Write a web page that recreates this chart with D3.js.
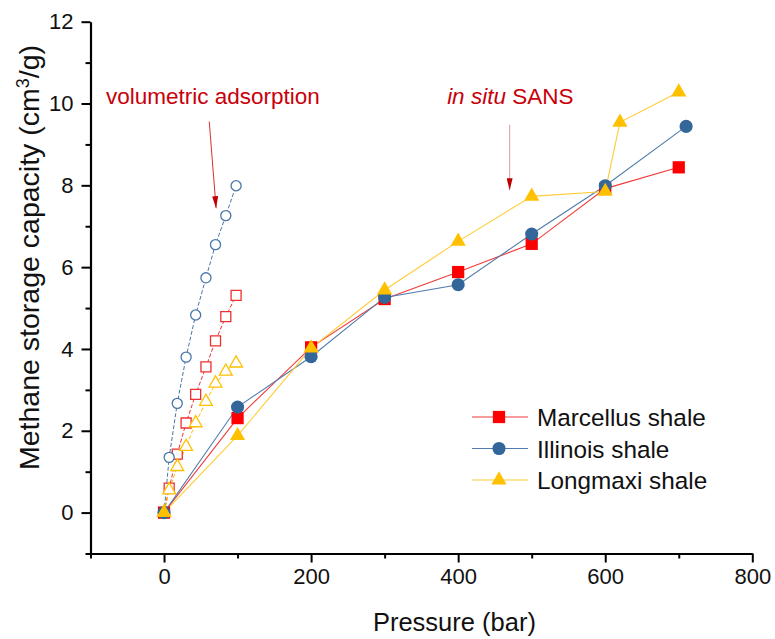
<!DOCTYPE html>
<html>
<head>
<meta charset="utf-8">
<script src="https://cdn.jsdelivr.net/npm/d3@7"></script>
<style>
  html, body { margin: 0; padding: 0; background: #fff; }
  svg { display: block; font-family: "Liberation Sans", Arial, sans-serif; }
</style>
</head>
<body>
<svg id="chart" width="775" height="639"></svg>
<script>
// ---------- data ----------
const marcellusPressure = [0, 100, 200, 300, 400, 500, 600, 700];
const marcellusSANS     = [0, 2.31, 4.04, 5.22, 5.88, 6.57, 7.92, 8.44];
const illinoisPressure  = [0, 100, 200, 300, 400, 500, 600, 710];
const illinoisSANS      = [0, 2.58, 3.81, 5.26, 5.57, 6.81, 7.99, 9.44];
const longmaxiPressure  = [0, 100, 200, 300, 400, 500, 600, 620, 700];
const longmaxiSANS      = [0, 1.88, 4.02, 5.44, 6.63, 7.73, 7.85, 9.54, 10.28];

const volPressure  = [0, 7, 18, 30, 43, 57, 70, 84, 98];
const marcellusVol = [0, 0.60, 1.43, 2.19, 2.89, 3.56, 4.20, 4.79, 5.31];
const illinoisVol  = [0, 1.35, 2.67, 3.80, 4.83, 5.74, 6.55, 7.26, 7.99];
const longmaxiVol  = [0, 0.55, 1.12, 1.61, 2.19, 2.71, 3.16, 3.45, 3.65];

const seriesNames = ["Marcellus shale", "Illinois shale", "Longmaxi shale"];
const xTicks = [0, 200, 400, 600, 800];
const xMinorTicks = [-100, 100, 300, 500, 700];
const yTicks = [0, 2, 4, 6, 8, 10, 12];
const yMinorTicks = [-1, 1, 3, 5, 7, 9, 11];

const xLabel = "Pressure (bar)";
const annVolText = "volumetric adsorption";
// annotations in data units: [x, y]
const annVolPos = [-79, 10.0];
const annVolArrow = [[61.5, 9.56], [70.8, 7.44]];
const annSansPos = [385, 10.0];
const annSansArrow = [[470, 9.48], [470, 7.88]];

// ---------- setup ----------
const svg = d3.select("#chart");
const x = d3.scaleLinear().domain([-100, 800]).range([90.5, 752.3]);
const y = d3.scaleLinear().domain([-1, 12]).range([553.5, 21.7]);

const zip = (xs, ys) => xs.map((v, i) => [v, ys[i]]);

const series = [
  { name: seriesNames[0], pts: zip(marcellusPressure, marcellusSANS), vol: zip(volPressure, marcellusVol),
    color: "#ff0000", line: "#f03a3a", open: "#ee3030", sym: d3.symbolSquare, size: 150, openSize: 100 },
  { name: seriesNames[1], pts: zip(illinoisPressure, illinoisSANS), vol: zip(volPressure, illinoisVol),
    color: "#336699", line: "#4f7cac", open: "#4a76a8", sym: d3.symbolCircle, size: 135, openSize: 80 },
  { name: seriesNames[2], pts: zip(longmaxiPressure, longmaxiSANS), vol: zip(volPressure, longmaxiVol),
    color: "#ffc000", line: "#ffcc33", open: "#ffc000", sym: d3.symbolTriangle, size: 100, openSize: 72 }
];

const line = d3.line().x(d => x(d[0])).y(d => y(d[1]));

// ---------- axes ----------
const axisFont = 22;
const gx = svg.append("g").attr("transform", `translate(0,${y(-1)})`);
gx.call(d3.axisBottom(x).tickValues(xTicks).tickSize(9).tickSizeOuter(0).tickPadding(6));
const gxm = svg.append("g").attr("transform", `translate(0,${y(-1)})`);
gxm.call(d3.axisBottom(x).tickValues(xMinorTicks).tickSize(5).tickSizeOuter(0).tickFormat(""));
gxm.select(".domain").remove();

const gy = svg.append("g").attr("transform", `translate(${x(-100)},0)`);
gy.call(d3.axisLeft(y).tickValues(yTicks).tickSize(9).tickSizeOuter(0).tickPadding(8));
const gym = svg.append("g").attr("transform", `translate(${x(-100)},0)`);
gym.call(d3.axisLeft(y).tickValues(yMinorTicks).tickSize(5).tickSizeOuter(0).tickFormat(""));
gym.select(".domain").remove();

svg.selectAll(".domain").attr("stroke", "#000").attr("stroke-width", 2.2);
svg.selectAll(".tick line").attr("stroke", "#000").attr("stroke-width", 2);
svg.selectAll(".tick text").attr("font-size", axisFont).attr("fill", "#111")
  .attr("font-family", '"Liberation Sans", Arial, sans-serif');

// axis titles
svg.append("text")
  .attr("x", (x(-100) + x(800)) / 2 + 33).attr("y", 631)
  .attr("text-anchor", "middle").attr("font-size", 25.5).attr("fill", "#111")
  .text(xLabel);

const yt = svg.append("text")
  .attr("transform", `translate(39,${257.5}) rotate(-90)`)
  .attr("text-anchor", "middle").attr("font-size", 28.5).attr("fill", "#111");
yt.append("tspan").text("Methane storage capacity (cm");
yt.append("tspan").attr("baseline-shift", "super").attr("font-size", 18).text("3");
yt.append("tspan").text("/g)");

// ---------- volumetric (open) series ----------
series.forEach(s => {
  svg.append("path").datum(s.vol).attr("d", line)
    .attr("fill", "none").attr("stroke", s.open).attr("stroke-width", 1)
    .attr("stroke-dasharray", "4,2");
});
series.forEach(s => {
  svg.append("g").selectAll("path").data(s.vol).join("path")
    .attr("transform", d => `translate(${x(d[0])},${y(d[1])})`)
    .attr("d", d3.symbol().type(s.sym).size(s.openSize))
    .attr("fill", "#fff").attr("stroke", s.open).attr("stroke-width", 1.3);
});

// ---------- SANS (solid) series ----------
series.forEach(s => {
  svg.append("path").datum(s.pts).attr("d", line)
    .attr("fill", "none").attr("stroke", s.line).attr("stroke-width", 1.1);
});
series.forEach(s => {
  svg.append("g").selectAll("path").data(s.pts).join("path")
    .attr("transform", d => `translate(${x(d[0])},${y(d[1])})`)
    .attr("d", d3.symbol().type(s.sym).size(s.size))
    .attr("fill", s.color);
});

// ---------- annotations ----------
const annColor = "#c8000a";
svg.append("defs").append("marker")
  .attr("id", "ah").attr("viewBox", "0 0 12 6").attr("refX", 12).attr("refY", 3)
  .attr("markerWidth", 12).attr("markerHeight", 6).attr("markerUnits", "userSpaceOnUse")
  .attr("orient", "auto")
  .append("path").attr("d", "M0,0 L12,3 L0,6 Z").attr("fill", "#c00000");

svg.append("text").attr("x", x(annVolPos[0])).attr("y", y(annVolPos[1]))
  .attr("font-size", 22.5).attr("fill", annColor).text(annVolText);
svg.append("line")
  .attr("x1", x(annVolArrow[0][0])).attr("y1", y(annVolArrow[0][1]))
  .attr("x2", x(annVolArrow[1][0])).attr("y2", y(annVolArrow[1][1]))
  .attr("stroke", "#d83030").attr("stroke-width", 1).attr("marker-end", "url(#ah)");

const st = svg.append("text").attr("x", x(annSansPos[0])).attr("y", y(annSansPos[1]))
  .attr("font-size", 22.5).attr("fill", annColor);
st.append("tspan").attr("font-style", "italic").text("in situ");
st.append("tspan").text(" SANS");
svg.append("line")
  .attr("x1", x(annSansArrow[0][0])).attr("y1", y(annSansArrow[0][1]))
  .attr("x2", x(annSansArrow[1][0])).attr("y2", y(annSansArrow[1][1]))
  .attr("stroke", "#d8a0a0").attr("stroke-width", 1).attr("marker-end", "url(#ah)");

// ---------- legend ----------
const legend = svg.append("g").attr("transform", "translate(472,417)");
series.forEach((s, i) => {
  const g = legend.append("g").attr("transform", `translate(0,${i * 31.5})`);
  g.append("line").attr("x1", 0).attr("x2", 56).attr("y1", 0).attr("y2", 0)
    .attr("stroke", s.line).attr("stroke-width", 1.1);
  g.append("path").attr("transform", "translate(27,0)")
    .attr("d", d3.symbol().type(s.sym).size(s.size)).attr("fill", s.color);
  g.append("text").attr("x", 65).attr("y", 9).attr("font-size", 24.3).attr("fill", "#111")
    .text(s.name);
});
</script>
</body>
</html>
